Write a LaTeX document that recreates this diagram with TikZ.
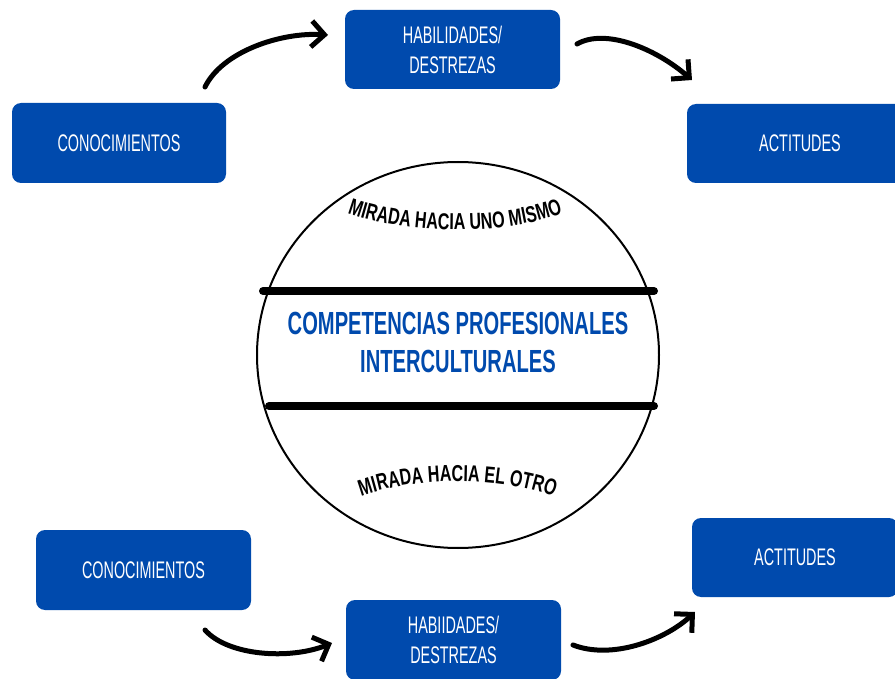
\documentclass[tikz,border=0pt]{standalone}
\usepackage{fontspec}
\setmainfont{Liberation Sans}
\newfontfamily\boxfont{Liberation Sans}[FakeStretch=0.6]
\newfontfamily\titlefont{Liberation Sans}[FakeStretch=0.63]
\newfontfamily\curvefont{Liberation Sans}[FakeStretch=0.7]
\usetikzlibrary{arrows.meta,decorations.text,shapes.geometric}
\definecolor{myblue}{HTML}{004AAD}
\begin{document}
\begin{tikzpicture}[x=1pt,y=-1pt,
  bluebox/.style={fill=myblue, rounded corners=9pt, text=white, align=center,
    inner sep=0pt, font=\boxfont\fontsize{24}{30}\selectfont},
  flow/.style={line width=5pt, line cap=round, line join=round,
    -{Straight Barb[length=13pt,width=26pt]}},
  band/.style={line width=8pt, line cap=round},
  curvetext/.style={decorate, decoration={text along path, text align=center, text={|\curvefont\bfseries\fontsize{23}{23}\selectfont|#1}}}]
\clip (0,0) rectangle (895,679);
\fill[white] (0,0) rectangle (895,679);

% boxes
\node[bluebox, minimum width=215pt, minimum height=79pt] (hab1) at (452.5,49.5) {HABILIDADES/\\DESTREZAS};
\node[bluebox, minimum width=214pt, minimum height=80pt] (con1) at (119,143) {CONOCIMIENTOS};
\node[bluebox, minimum width=226pt, minimum height=79pt] (act1) at (800,143.5) {ACTITUDES};
\node[bluebox, minimum width=215pt, minimum height=80pt] (con2) at (143.5,570) {CONOCIMIENTOS};
\node[bluebox, minimum width=215pt, minimum height=80pt] (hab2) at (453.5,640) {HABIIDADES/\\DESTREZAS};
\node[bluebox, minimum width=206pt, minimum height=79pt] (act2) at (795,557.5) {ACTITUDES};

% circle
\node[draw, ellipse, line width=2pt, minimum width=402pt, minimum height=386pt, inner sep=0pt] (circ) at (458,355) {};
\draw[band] (263,291) -- (654,291);
\draw[band] (269,406) -- (654,406);

\node[text=myblue, align=center, font=\titlefont\bfseries\fontsize{32}{38}\selectfont] (title) at (458,342) {COMPETENCIAS PROFESIONALES\\INTERCULTURALES};

\path[curvetext={MIRADA HACIA UNO MISMO}] (335,208) .. controls (400,237) and (515,237) .. (575,208);
\path[curvetext={MIRADA HACIA EL OTRO}] (345,503) .. controls (405,474) and (510,474) .. (570,503);

% arrows
\coordinate (a1s) at (205,87);  \coordinate (a1e) at (328,35);
\coordinate (a2s) at (577,44);  \coordinate (a2e) at (692,80);
\coordinate (a3s) at (205,630); \coordinate (a3e) at (332,643);
\coordinate (a4s) at (573,645); \coordinate (a4e) at (695,612);
\draw[flow] (a1s) .. controls (222,52) and (280,32) .. (a1e);
\draw[flow] (a2s) .. controls (605,28) and (655,48) .. (a2e);
\draw[flow] (a3s) .. controls (228,656) and (290,660) .. (a3e);
\draw[flow] (a4s) .. controls (612,660) and (665,640) .. (a4e);
\end{tikzpicture}
\end{document}
